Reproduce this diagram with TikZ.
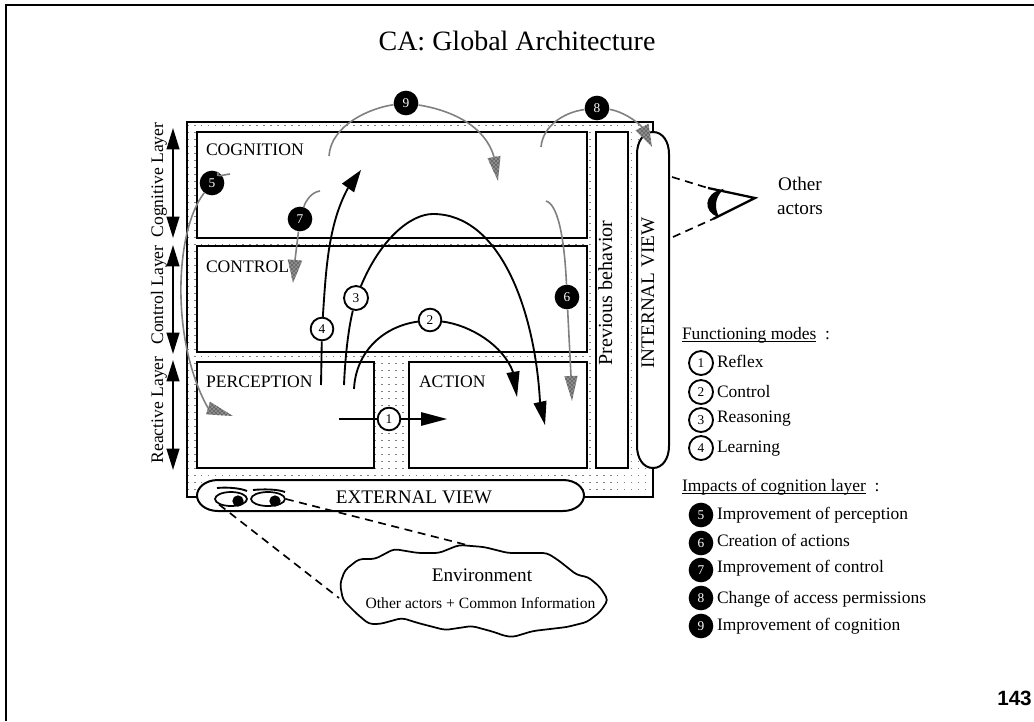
\documentclass[tikz,border=0pt]{standalone}
\usepackage{fontspec}
\usetikzlibrary{arrows.meta,calc,patterns,shapes.geometric}
\setmainfont{Liberation Serif}
\newfontfamily\hvfont{Liberation Sans}
\newcommand{\fs}[1]{\fontsize{#1}{#1}\selectfont}
\newcommand{\tipshape}[4]{\path[#1] ($(#2)!#4!90:(#3)$) -- (#3) -- ($(#2)!#4!-90:(#3)$) -- cycle;}
\tikzset{
  box/.style={draw=black,line width=1.5pt,fill=white,inner sep=0,outer sep=0},
  lab/.style={inner sep=0,outer sep=0,anchor=base west,font=\fs{13.2}},
  vlab/.style={inner sep=0,outer sep=0,anchor=base,rotate=90},
  numw/.style={circle,draw=black,line width=1.4pt,fill=white,minimum size=17pt,inner sep=0,font=\fs{10}},
  numb/.style={circle,fill=black,text=white,minimum size=18.5pt,inner sep=0,font=\fs{10}},
  lg/.style={inner sep=0,outer sep=0,anchor=base west,font=\fs{13.1}},
  blk/.style={draw=black,line width=1.4pt},
  gry/.style={draw=black!50,line width=1.2pt},
  btip/.style={fill=black},
  gtip/.style={preaction={fill=black!45},pattern=crosshatch dots,pattern color=black},
  dsh/.style={draw=black,line width=1.25pt,dash pattern=on 6pt off 4.2pt},
  dbl/.style={draw=black,line width=1.5pt,{Triangle[length=16pt,width=9.5pt]}-{Triangle[length=16pt,width=9.5pt]}},
  dotln/.style={draw=black!50,line width=0.5pt,dash pattern=on 1.2pt off 4pt}
}
\begin{document}
\begin{tikzpicture}[x=0.75pt,y=-0.75pt]
\useasboundingbox (0,0) rectangle (1034,721);
% page frame
\draw[line width=1.9pt] (6,721) -- (6,5) -- (1034,5);
\node[inner sep=0,font=\fs{21}] (title) at (517,41) {CA: Global Architecture};
\node[inner sep=0,anchor=base east,font=\hvfont\bfseries\fs{15.5}] (page) at (1032,705) {143};
% dotted ground
\begin{scope}
\clip (187,122) rectangle (653,497);
\foreach \yy in {125,132,...,497} \draw[dotln] (187,\yy) -- (653,\yy);
\end{scope}
\draw[line width=1.5pt] (197,497) -- (187,497) -- (187,122) -- (653,122) -- (653,132);
\draw[line width=1.5pt] (653,468) -- (653,497) -- (584,497);
% boxes
\node[box,minimum width=390*0.75pt,minimum height=106*0.75pt] (cog) at (392,185) {};
\node[box,minimum width=390*0.75pt,minimum height=106*0.75pt] (ctl) at (392,299) {};
\node[box,minimum width=177*0.75pt,minimum height=106*0.75pt] (per) at (285.5,415) {};
\node[box,minimum width=178*0.75pt,minimum height=106*0.75pt] (act) at (498,415) {};
\node[box,minimum width=32*0.75pt,minimum height=336*0.75pt] (prev) at (612,300) {};
\draw[box] (637,154) .. controls (637,142) and (643,132) .. (653,132) .. controls (663,132) and (669,142) .. (669,154) -- (669,446) .. controls (669,458) and (663,468) .. (653,468) .. controls (643,468) and (637,458) .. (637,446) -- cycle;
\draw[box] (218,480) -- (563,480) .. controls (576,480) and (584,488) .. (584,495.5) .. controls (584,503) and (576,511) .. (563,511) -- (218,511) .. controls (205,511) and (197,503) .. (197,495.5) .. controls (197,488) and (205,480) .. (218,480) -- cycle;
% box labels
\node[lab] (lcog) at (206,155) {COGNITION};
\node[lab] (lctl) at (206,272) {CONTROL};
\node[lab] (lper) at (206,387) {PERCEPTION};
\node[lab] (lact) at (419,387) {ACTION};
\node[vlab,font=\fs{15}] (lprev) at (612,293) {Previous behavior};
\node[vlab,font=\fs{14.4}] (lint) at (654,293) {INTERNAL VIEW};
\node[inner sep=0,anchor=base,font=\fs{14.4}] (lext) at (414,503) {EXTERNAL VIEW};
% layer labels and arrows
\node[vlab,font=\fs{13.2}] (lc1) at (163,180) {Cognitive Layer};
\node[vlab,font=\fs{13.2}] (lc2) at (163,295) {Control Layer};
\node[vlab,font=\fs{13.2}] (lc3) at (163,410) {Reactive Layer};
\coordinate (a1) at (173,128); \coordinate (a2) at (173,238);
\coordinate (a3) at (173,245); \coordinate (a4) at (173,354);
\coordinate (a5) at (173,360); \coordinate (a6) at (173,470);
\draw[dbl] (a1) -- (a2);
\draw[dbl] (a3) -- (a4);
\draw[dbl] (a5) -- (a6);
% numbered nodes on the diagram
\node[numw] (n1) at (389,419) {1};
\node[numw] (n2) at (430,320) {2};
\node[numw,minimum size=18pt] (n3) at (356,298) {3};
\node[numw] (n4) at (322,329) {4};
\node[numb] (n5) at (212,183) {5};
\node[numb] (n6) at (567,297) {6};
\node[numb] (n7) at (300,219) {7};
\node[numb] (n8) at (597,108) {8};
\node[numb] (n9) at (406,103) {9};
% free ends
\coordinate (s1) at (339,419); \coordinate (b1) at (421,419); \coordinate (t1) at (447,419);
\coordinate (s2) at (354,389); \coordinate (b2) at (513,372); \coordinate (t2) at (517,397);
\coordinate (s3) at (344,385); \coordinate (b3) at (540,402); \coordinate (t3) at (545,425);
\coordinate (s4) at (321,385); \coordinate (b4) at (348,188); \coordinate (t4) at (361,170);
\coordinate (s5) at (230,174); \coordinate (b5) at (208,408); \coordinate (t5) at (233,416);
\coordinate (s6) at (546,201); \coordinate (b6) at (571,376); \coordinate (t6) at (572,401);
\coordinate (s7) at (320,191); \coordinate (b7) at (295,260); \coordinate (t7) at (293,283);
\coordinate (s8) at (541,147); \coordinate (b8) at (642,127); \coordinate (t8) at (652,147);
\coordinate (s9) at (329,156); \coordinate (b9) at (494,157); \coordinate (t9) at (498,181);
% black connectors
\draw[blk] (s1) -- (n1);
\draw[blk] (n1) -- (b1);
\draw[blk] (s2) .. controls (356,350) and (385,326) .. (n2);
\draw[blk] (n2) .. controls (470,325) and (503,345) .. (b2);
\draw[blk] (s3) .. controls (345,360) and (348,330) .. (n3);
\draw[blk] (n3) .. controls (380,240) and (410,214) .. (433,214) .. controls (500,214) and (535,310) .. (b3);
\draw[blk] (s4) -- (n4);
\draw[blk] (n4) .. controls (326,270) and (328,225) .. (b4);
\tipshape{btip}{b1}{t1}{5.2pt}
\tipshape{btip}{b2}{t2}{5pt}
\tipshape{btip}{b3}{t3}{5pt}
\tipshape{btip}{b4}{t4}{5.6pt}
% grey connectors
\draw[gry] (s5) .. controls (222,175) and (215,178) .. (n5);
\draw[gry] (n5) .. controls (175,230) and (170,340) .. (b5);
\draw[gry] (s6) .. controls (560,205) and (565,250) .. (n6);
\draw[gry] (n6) -- (b6);
\draw[gry] (s7) .. controls (312,192) and (306,200) .. (n7);
\draw[gry] (n7) -- (b7);
\draw[gry] (s8) .. controls (543,125) and (565,112) .. (n8);
\draw[gry] (n8) .. controls (615,110) and (630,115) .. (b8);
\draw[gry] (s9) .. controls (331,125) and (370,108) .. (n9);
\draw[gry] (n9) .. controls (450,110) and (485,125) .. (b9);
\tipshape{gtip}{b5}{t5}{5pt}
\tipshape{gtip}{b6}{t6}{5pt}
\tipshape{gtip}{b7}{t7}{5.5pt}
\tipshape{gtip}{b8}{t8}{5.5pt}
\tipshape{gtip}{b9}{t9}{5pt}
% eyes of the external view
\node[ellipse,draw=black,line width=1.3pt,minimum width=32*0.75pt,minimum height=14*0.75pt,inner sep=0] (eyeA) at (231,499) {};
\node[ellipse,draw=black,line width=1.3pt,minimum width=34*0.75pt,minimum height=14*0.75pt,inner sep=0] (eyeB) at (268,499) {};
\node[circle,fill=black,minimum size=8.5pt,inner sep=0] (pupA) at (238,501) {};
\node[circle,fill=black,minimum size=8.5pt,inner sep=0] (pupB) at (275,501) {};
\draw[line width=1.4pt] (217,488) .. controls (227,487) and (240,488) .. (247,491);
\draw[line width=1.4pt] (253,490) .. controls (263,489) and (277,489) .. (285,492);
% cloud
\draw[line width=1.3pt,rounded corners=3pt] (340,584) -- (345,570) -- (359,559) -- (375,559) -- (394,549) -- (418,553) -- (439,553) -- (459,545) -- (484,547) -- (508,553) -- (547,553) -- (558,560) -- (577,575) -- (588,577) -- (600,587) -- (608,600) -- (600,612) -- (587,622) -- (567,627) -- (533,631) -- (513,637) -- (505,636) -- (494,632) -- (472,626) -- (445,630) -- (418,623) -- (402,618) -- (380,624) -- (369,624) -- (357,614) -- (343,600) -- cycle;
\node[inner sep=0,anchor=base,font=\fs{14.4}] (env) at (482,581) {Environment};
\node[inner sep=0,anchor=base,font=\fs{11.7}] (envt) at (480.5,608) {Other actors + Common Information};
\coordinate (cl1) at (467,545);
\coordinate (cl2) at (339,598);
\draw[dsh] (eyeB.east) -- (cl1);
\draw[dsh] (eyeA.south west) -- (cl2);
% observer's eye
\coordinate (apx) at (755,198);
\coordinate (ut) at (708,188);
\coordinate (lt) at (713,219);
\coordinate (us) at (672,177);
\coordinate (ls) at (673,237);
\draw[dsh] (us) -- (ut);
\draw[dsh] (ls) -- (lt);
\draw[line width=1.7pt] (ut) -- (apx) -- (lt);
\draw[line width=0.9pt,fill=black] (722,190) .. controls (704,194) and (704,212) .. (718,216) .. controls (714,208) and (714,198) .. (722,190) -- cycle;
\node[inner sep=0,anchor=base,font=\fs{14.4}] (oth1) at (800,190) {Other};
\node[inner sep=0,anchor=base,font=\fs{14.4}] (oth2) at (800,214) {actors};
% legend
\node[lg] (h1) at (682,339) {\underline{\smash{Functioning modes}}\ \ :};
\node[numw,minimum size=18pt] (k1) at (701,363) {1};
\node[numw,minimum size=18pt] (k2) at (701,392) {2};
\node[numw,minimum size=18pt] (k3) at (701,420) {3};
\node[numw,minimum size=18pt] (k4) at (701,448) {4};
\node[lg] (t1l) at (717,367) {Reflex};
\node[lg] (t2l) at (717,397) {Control};
\node[lg] (t3l) at (717,422) {Reasoning};
\node[lg] (t4l) at (717,452) {Learning};
\node[lg] (h2) at (682,491) {\underline{\smash{Impacts of cognition layer}}\ \ :};
\node[numb] (k5) at (701,515) {5};
\node[numb] (k6) at (701,543) {6};
\node[numb] (k7) at (701,570) {7};
\node[numb] (k8) at (701,598) {8};
\node[numb] (k9) at (701,626) {9};
\node[lg] (t5l) at (717,519) {Improvement of perception};
\node[lg] (t6l) at (717,546) {Creation of actions};
\node[lg] (t7l) at (717,572) {Improvement of control};
\node[lg] (t8l) at (717,603) {Change of access permissions};
\node[lg] (t9l) at (717,630) {Improvement of cognition};
\end{tikzpicture}
\end{document}
